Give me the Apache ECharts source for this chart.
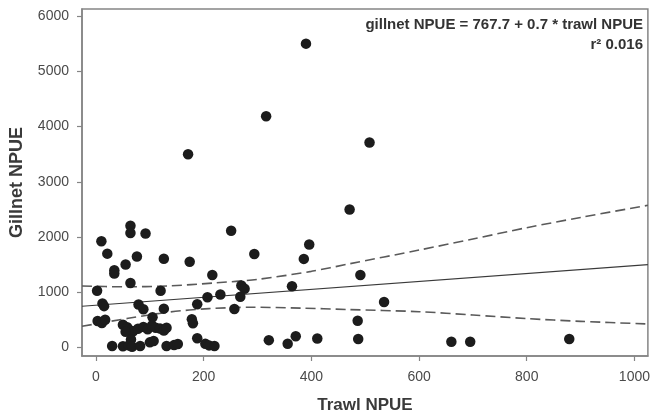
<!DOCTYPE html>
<html>
<head>
<meta charset="utf-8">
<script src="https://cdn.jsdelivr.net/npm/echarts@6/dist/echarts.min.js"></script>
<style>
  html, body { margin: 0; padding: 0; background: #fff; }
  #chart { width: 653px; height: 419px; }
</style>
</head>
<body>
<div id="chart"></div>
<script>
// Trawl NPUE (x) and Gillnet NPUE (y) observations
const trawlNPUE = [
  390, 316, 508, 171, 471, 251, 294, 396, 386, 216, 491, 270, 276, 364, 231, 207, 268, 188, 257, 535,
  486, 487, 321, 356, 371, 411, 660, 695, 879,
  64, 64, 92, 10, 21, 76, 126, 55, 34, 34, 64, 2, 120, 12, 15, 79, 88, 126, 174, 178, 180, 3, 11, 17, 105,
  50, 58, 62, 69, 78, 88, 96, 104, 111, 119, 126, 131, 55,
  30, 50, 61, 65, 67, 82, 100, 107, 131, 145, 152, 188, 203, 210, 220
];
const gillnetNPUE = [
  5500, 4185, 3710, 3500, 2500, 2115, 1695, 1865, 1605, 1315, 1315, 1125, 1065, 1110, 960, 910, 920, 785, 700, 825,
  485, 155, 135, 70, 205, 165, 105, 105, 155,
  2205, 2075, 2065, 1925, 1700, 1650, 1607, 1505, 1400, 1340, 1170, 1030, 1030, 800, 750, 780, 695, 705, 1555, 515, 440, 480, 445, 505, 550,
  415, 370, 320, 295, 340, 375, 330, 400, 360, 345, 310, 360, 285,
  30, 25, 40, 145, 15, 30, 95, 120, 30, 45, 65, 170, 70, 40, 30
];
// Fitted regression line (read at plot edges)
const fitX = [-26, 1025];
const fitY = [748, 1500];
// Upper and lower 95% confidence band
const upperX = [-26, 50, 133, 220, 300, 400, 470, 600, 700, 800, 900, 1025];
const upperY = [1115, 1100, 1115, 1170, 1235, 1380, 1515, 1765, 1965, 2170, 2355, 2575];
const lowerX = [-26, 60, 137, 210, 290, 380, 465, 600, 700, 800, 900, 1025];
const lowerY = [385, 530, 645, 705, 730, 715, 690, 650, 590, 525, 475, 428];
// Axis ticks
const xTicks = [0, 200, 400, 600, 800, 1000];
const yTicks = [0, 1000, 2000, 3000, 4000, 5000, 6000];

const zip = (a, b) => a.map((v, i) => [v, b[i]]);

const chart = echarts.init(document.getElementById('chart'), null, { renderer: 'canvas' });
const axisColor = '#858585';
const labelColor = '#4a4a4a';
const fontFam = '"Liberation Sans", Arial, sans-serif';
const plain = v => String(v);

chart.setOption({
  animation: false,
  backgroundColor: '#ffffff',
  grid: {
    left: 82, right: 2, top: 9, bottom: 59,
    show: true, borderColor: axisColor, borderWidth: 1.5, backgroundColor: 'transparent'
  },
  xAxis: {
    type: 'value', min: -26, max: 1025,
    name: 'Trawl NPUE', nameLocation: 'middle', nameGap: 41,
    nameTextStyle: { fontFamily: fontFam, fontWeight: 'bold', fontSize: 17, color: '#3a3a3a' },
    axisLine: { show: true, onZero: false, lineStyle: { color: axisColor, width: 1.5 } },
    axisTick: { show: true, inside: false, length: 5, customValues: xTicks, lineStyle: { color: axisColor, width: 1.2 } },
    axisLabel: { customValues: xTicks, formatter: plain, margin: 14, fontFamily: fontFam, fontSize: 14, color: labelColor },
    splitLine: { show: false }
  },
  yAxis: {
    type: 'value', min: -152, max: 6127,
    name: 'Gillnet NPUE', nameLocation: 'middle', nameGap: 56, nameRotate: 90,
    nameTextStyle: { fontFamily: fontFam, fontWeight: 'bold', fontSize: 18, color: '#3a3a3a' },
    axisLine: { show: true, onZero: false, lineStyle: { color: axisColor, width: 1.5 } },
    axisTick: { show: true, inside: false, length: 5, customValues: yTicks, lineStyle: { color: axisColor, width: 1.2 } },
    axisLabel: { customValues: yTicks, formatter: plain, margin: 13, fontFamily: fontFam, fontSize: 14, color: labelColor },
    splitLine: { show: false }
  },
  series: [
    {
      type: 'line', data: zip(upperX, upperY), smooth: 0.3, showSymbol: false, symbol: 'none',
      lineStyle: { color: '#5a5a5a', width: 1.6, type: [10, 5] }, z: 2
    },
    {
      type: 'line', data: zip(lowerX, lowerY), smooth: 0.3, showSymbol: false, symbol: 'none',
      lineStyle: { color: '#5a5a5a', width: 1.6, type: [10, 5] }, z: 2
    },
    {
      type: 'line', data: zip(fitX, fitY), showSymbol: false, symbol: 'none',
      lineStyle: { color: '#3a3a3a', width: 1.2 }, z: 2
    },
    {
      type: 'scatter', data: zip(trawlNPUE, gillnetNPUE), symbol: 'circle', symbolSize: 10.5,
      itemStyle: { color: '#1c1c1c', opacity: 1 }, z: 3
    }
  ],
  graphic: [
    {
      type: 'text', x: 643, y: 25,
      style: {
        text: 'gillnet NPUE = 767.7 + 0.7 * trawl NPUE',
        font: 'bold 15px ' + fontFam, fill: '#333', textAlign: 'right', textVerticalAlign: 'middle'
      }
    },
    {
      type: 'text', x: 643, y: 45,
      style: {
        text: 'r\u00B2 0.016',
        font: 'bold 15px ' + fontFam, fill: '#333', textAlign: 'right', textVerticalAlign: 'middle'
      }
    }
  ]
});
</script>
</body>
</html>
